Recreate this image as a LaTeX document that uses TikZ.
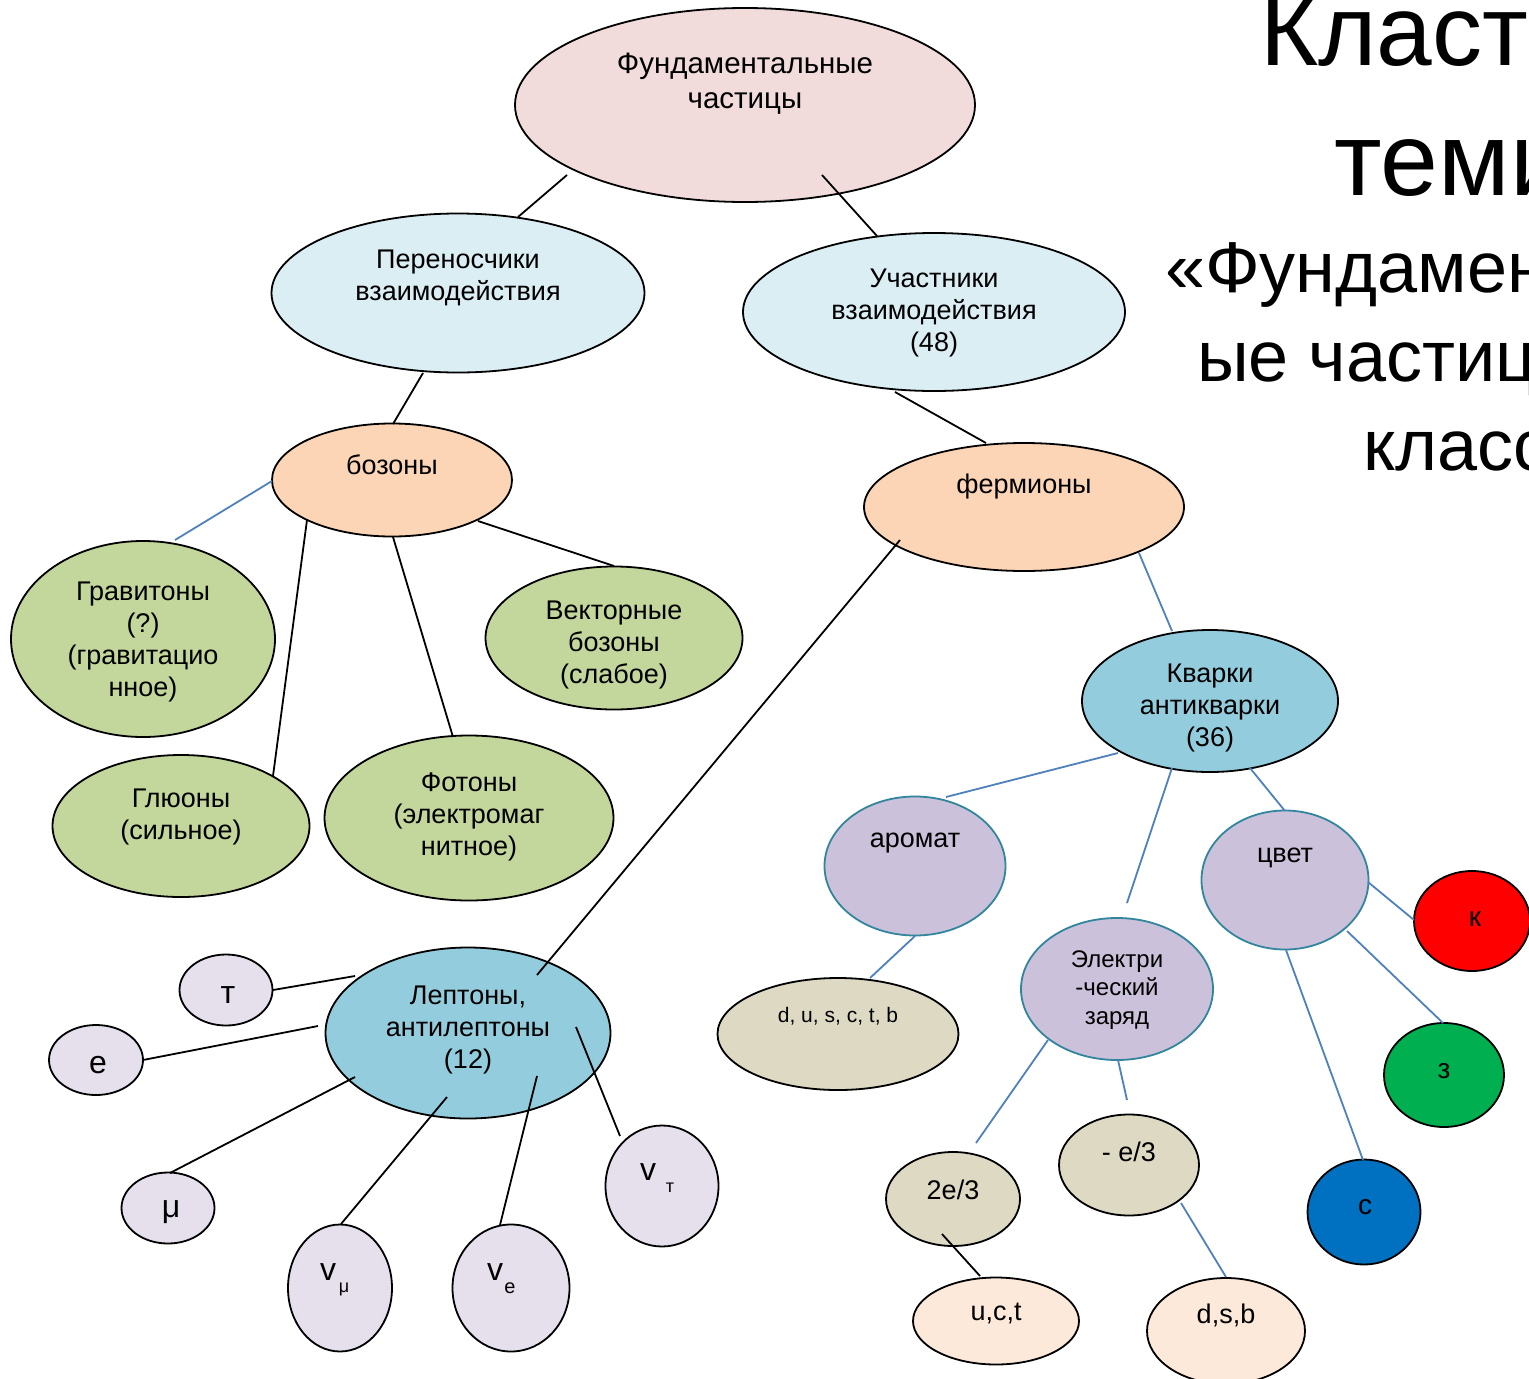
\documentclass[tikz,border=0pt]{standalone}
\usepackage{fontspec}
\setmainfont{Liberation Sans}
\usetikzlibrary{shapes.geometric,calc}
\definecolor{cpink}{HTML}{F2DCDB}
\definecolor{clblue}{HTML}{DBEEF4}
\definecolor{cpeach}{HTML}{FBD5B5}
\definecolor{cgreen}{HTML}{C3D69B}
\definecolor{cteal}{HTML}{93CDDD}
\definecolor{clav}{HTML}{CCC1DA}
\definecolor{ctealline}{HTML}{31859C}
\definecolor{ckhaki}{HTML}{DDD9C3}
\definecolor{clpeach}{HTML}{FDE9D9}
\definecolor{cllav}{HTML}{E5E0EC}
\definecolor{linkblue}{HTML}{4F81BD}
\definecolor{cred}{HTML}{FF0000}
\definecolor{cgr}{HTML}{00B050}
\definecolor{cbl}{HTML}{0070C0}
\newcommand\myfs[2]{\fontsize{#1}{#2}\selectfont}
\tikzset{
  ell/.style={ellipse, draw=black, line width=1.8pt, inner sep=0pt},
  tell/.style={ellipse, draw=ctealline, line width=1.8pt, inner sep=0pt, fill=clav},
  txt/.style={align=center, inner sep=0pt, font=\myfs{27}{32}},
  big/.style={anchor=base west, inner sep=0pt},
  lk/.style={line width=1.8pt, draw=black},
  lb/.style={line width=1.8pt, draw=linkblue},
}
\begin{document}
\begin{tikzpicture}[x=1pt,y=-1pt]
\clip (0,0) rectangle (1529,1379);
\fill[white] (0,0) rectangle (1529,1379);

% title
\node[big, font=\myfs{100}{110}] (t1) at (1260,65) {Кластер};
\node[big, font=\myfs{104}{110}] (t2) at (1334,195) {теми};
\node[big, font=\myfs{72}{80}] (t3) at (1165,292) {«Фундаментальн};
\node[big, font=\myfs{72}{80}] (t4) at (1197,381) {ые частицы»};
\node[big, font=\myfs{72}{80}] (t5) at (1363,470) {класс};

% ellipses
\node[ell, fill=cpink, minimum width=460pt, minimum height=194pt] (fund) at (745,105) {};
\node[ell, fill=clblue, minimum width=373pt, minimum height=159pt] (pern) at (458,293) {};
\node[ell, fill=clblue, minimum width=382pt, minimum height=158pt] (uch) at (934,312) {};
\node[ell, fill=cpeach, minimum width=240pt, minimum height=113pt] (boz) at (392,480) {};
\node[ell, fill=cpeach, minimum width=320pt, minimum height=128pt] (ferm) at (1024,507) {};
\node[ell, fill=cgreen, minimum width=264pt, minimum height=196pt] (grav) at (143,639) {};
\node[ell, fill=cgreen, minimum width=257pt, minimum height=143pt] (vect) at (614,638) {};
\node[ell, fill=cgreen, minimum width=257pt, minimum height=142pt] (glu) at (181,826) {};
\node[ell, fill=cgreen, minimum width=289pt, minimum height=165pt] (phot) at (469,818) {};
\node[ell, fill=cteal, minimum width=256pt, minimum height=142pt] (quark) at (1210,701) {};
\node[ell, fill=cteal, minimum width=285pt, minimum height=171pt] (lep) at (468,1033) {};
\node[tell, minimum width=181pt, minimum height=139pt] (arom) at (915,866) {};
\node[tell, minimum width=167pt, minimum height=139pt] (cvet) at (1285,880) {};
\node[tell, minimum width=192pt, minimum height=142pt] (elec) at (1117,989) {};
\node[ell, fill=ckhaki, minimum width=241pt, minimum height=112pt] (dus) at (838,1034) {};
\node[ell, fill=ckhaki, minimum width=134pt, minimum height=94pt] (te) at (953,1199) {};
\node[ell, fill=ckhaki, minimum width=140pt, minimum height=101pt] (me) at (1129,1165) {};
\node[ell, fill=clpeach, minimum width=166pt, minimum height=87pt] (uct) at (996,1321) {};
\node[ell, fill=clpeach, minimum width=158pt, minimum height=106pt] (dsb) at (1226,1331) {};
\node[ell, fill=cred, minimum width=116pt, minimum height=100pt] (kr) at (1472,921) {};
\node[ell, fill=cgr, minimum width=120pt, minimum height=104pt] (zg) at (1444,1075) {};
\node[ell, fill=cbl, minimum width=113pt, minimum height=105pt] (sb) at (1364,1212) {};
\node[ell, fill=cllav, minimum width=93pt, minimum height=71pt] (tau) at (226,990) {};
\node[ell, fill=cllav, minimum width=94pt, minimum height=70pt] (ee) at (96,1060) {};
\node[ell, fill=cllav, minimum width=93pt, minimum height=71pt] (mu) at (168,1208) {};
\node[ell, fill=cllav, minimum width=104pt, minimum height=127pt] (nmu) at (340,1288) {};
\node[ell, fill=cllav, minimum width=117pt, minimum height=127pt] (nue) at (511,1288) {};
\node[ell, fill=cllav, minimum width=113pt, minimum height=121pt] (ntau) at (662,1186) {};

% texts
\node[txt, font=\myfs{29.5}{35}] (fundT) at (745,84) {Фундаментальные\\частицы};
\node[txt] (pernT) at (458,278) {Переносчики\\взаимодействия};
\node[txt] (uchT) at (934,313) {Участники\\взаимодействия\\(48)};
\node[txt] (bozT) at (392,465) {бозоны};
\node[txt] (fermT) at (1024,487) {фермионы};
\node[txt] (gravT) at (143,642) {Гравитоны\\(?)\\(гравитацио\\нное)};
\node[txt] (vectT) at (614,645) {Векторные\\бозоны\\(слабое)};
\node[txt] (gluT) at (181,817) {Глюоны\\(сильное)};
\node[txt] (photT) at (469,817) {Фотоны\\(электромаг\\нитное)};
\node[txt] (quarkT) at (1210,708) {Кварки\\антикварки\\(36)};
\node[txt] (lepT) at (468,1030) {Лептоны,\\антилептоны\\(12)};
\node[txt] (aromT) at (915,843) {аромат};
\node[txt] (cvetT) at (1285,858) {цвет};
\node[txt, font=\myfs{24}{28.5}] (elecT) at (1117,990) {Электри\\-ческий\\заряд};
\node[txt, font=\myfs{21}{24}] (dusT) at (838,1016) {d, u, s, c, t, b};
\node[txt] (teT) at (953,1190) {2e/3};
\node[txt] (meT) at (1129,1152) {- e/3};
\node[txt] (uctT) at (996,1313) {u,c,t};
\node[txt] (dsbT) at (1226,1315) {d,s,b};
\node[txt, font=\myfs{28}{32}] (krT) at (1475,919) {к};
\node[txt, font=\myfs{28}{32}] (zgT) at (1444,1071) {з};
\node[txt, font=\myfs{28}{32}] (sbT) at (1365,1207) {с};
\node[txt, font=\myfs{32}{36}] (tauT) at (228,995) {т};
\node[txt, font=\myfs{32}{36}] (eeT) at (98,1065) {e};
\node[txt, font=\myfs{32}{36}] (muT) at (171,1212) {μ};
\node[txt, font=\myfs{32}{36}] (nmuT) at (328,1272) {v};
\node[txt, font=\myfs{18}{20}] (nmuS) at (344,1289) {μ};
\node[txt, font=\myfs{32}{36}] (nueT) at (495,1272) {v};
\node[txt, font=\myfs{20}{22}] (nueS) at (510,1288) {e};
\node[txt, font=\myfs{32}{36}] (ntauT) at (648,1172) {v};
\node[txt, font=\myfs{18}{20}] (ntauS) at (670,1188) {т};

% connectors
\draw[lk] ($(fund)+(-178,70)$) -- ($(pern)+(60,-76)$);
\draw[lk] ($(fund)+(77,70)$) -- ($(uch)+(-57,-76)$);
\draw[lk] ($(pern)+(-35,80)$) -- ($(boz)+(1,-56)$);
\draw[lk] ($(uch)+(-39,80)$) -- ($(ferm)+(-38,-64)$);
\draw[lb] ($(boz)+(-120,1)$) -- ($(grav)+(32,-99)$);
\draw[lk] ($(boz)+(-85,40)$) -- ($(glu)+(92,-50)$);
\draw[lk] ($(boz)+(1,57)$) -- ($(phot)+(-16,-81)$);
\draw[lk] ($(boz)+(86,41)$) -- ($(vect)+(0,-72)$);
\draw[lk] ($(ferm)+(-124,33)$) -- ($(lep)+(69,-58)$);
\draw[lb] ($(ferm)+(115,46)$) -- ($(quark)+(-38,-70)$);
\draw[lb] ($(quark)+(-92,52)$) -- ($(arom)+(31,-69)$);
\draw[lb] ($(quark)+(-38,67)$) -- ($(elec)+(10,-86)$);
\draw[lb] ($(quark)+(40,67)$) -- ($(cvet)+(0,-69)$);
\draw[lb] ($(arom)+(0,70)$) -- ($(dus)+(32,-56)$);
\draw[lb] ($(cvet)+(83,2)$) -- ($(kr)+(-58,-1)$);
\draw[lb] ($(cvet)+(62,51)$) -- ($(zg)+(-1,-52)$);
\draw[lb] ($(cvet)+(1,70)$) -- ($(sb)+(-1,-52)$);
\draw[lb] ($(elec)+(-69,51)$) -- ($(te)+(23,-56)$);
\draw[lb] ($(elec)+(1,71)$) -- ($(me)+(-2,-65)$);
\draw[lb] ($(me)+(52,38)$) -- ($(dsb)+(0,-54)$);
\draw[lk] ($(te)+(-11,35)$) -- ($(uct)+(-16,-45)$);
\draw[lk] ($(lep)+(-113,-57)$) -- ($(tau)+(47,0)$);
\draw[lk] ($(lep)+(-150,-7)$) -- ($(ee)+(47,0)$);
\draw[lk] ($(lep)+(-113,44)$) -- ($(mu)+(2,-35)$);
\draw[lk] ($(lep)+(-21,64)$) -- ($(nmu)+(1,-64)$);
\draw[lk] ($(lep)+(69,43)$) -- ($(nue)+(-11,-63)$);
\draw[lk] ($(lep)+(108,-6)$) -- ($(ntau)+(-42,-50)$);
\end{tikzpicture}
\end{document}
